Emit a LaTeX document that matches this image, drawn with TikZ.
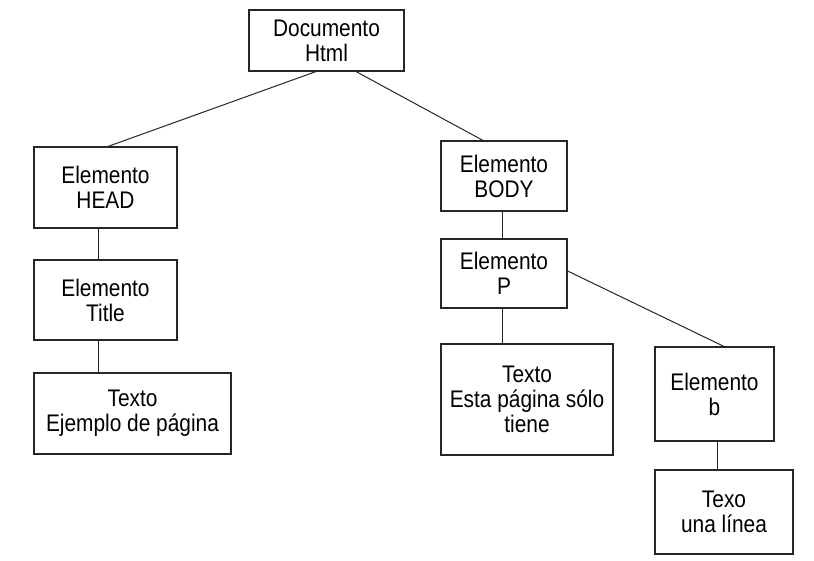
\documentclass[tikz,border=0pt]{standalone}
\usepackage{fontspec}
\setmainfont{Liberation Sans}[FakeStretch=0.87]
\begin{document}
\begin{tikzpicture}[x=1pt,y=-1pt,
  box/.style={draw=black!85,line width=1.1pt,fill=white,inner sep=0pt,align=center,
    font=\fontsize{24}{25}\selectfont,text=black},
  link/.style={draw=black!85,line width=1pt}]
\useasboundingbox (0,0) rectangle (814,561);
\node[box,minimum width=155pt,minimum height=61pt] (doc) at (326.5,40.5) {Documento\\Html};
\node[box,minimum width=143pt,minimum height=81pt] (head) at (105.5,187.5) {Elemento\\HEAD};
\node[box,minimum width=143pt,minimum height=80pt] (title) at (105.5,300) {Elemento\\Title};
\node[box,minimum width=197pt,minimum height=81pt] (ejemplo) at (132.5,413.5) {Texto\\Ejemplo de página};
\node[box,minimum width=126pt,minimum height=70pt] (body) at (504,176) {Elemento\\BODY};
\node[box,minimum width=126pt,minimum height=69pt] (p) at (504,273.5) {Elemento\\P};
\node[box,minimum width=172pt,minimum height=111pt] (texto) at (527,399.5) {Texto\\Esta página sólo\\tiene};
\node[box,minimum width=119pt,minimum height=94pt] (b) at (714.5,394) {Elemento\\b};
\node[box,minimum width=138pt,minimum height=84pt] (texo) at (724,512) {Texo\\una línea};
\draw[link] ([xshift=-10.5pt]doc.south) -- ([xshift=2.5pt]head.north);
\draw[link] ([xshift=29.5pt]doc.south) -- ([xshift=-21pt]body.north);
\draw[link] ([xshift=-7.5pt]head.south) -- ([xshift=-7.5pt]head.south |- title.north);
\draw[link] ([xshift=-7.5pt]title.south) -- ([xshift=-7.5pt]title.south |- ejemplo.north);
\draw[link] ([xshift=-2pt]body.south) -- ([xshift=-2pt]body.south |- p.north);
\draw[link] ([xshift=-2pt]p.south) -- ([xshift=-2pt]p.south |- texto.north);
\draw[link] ([yshift=2.5pt]p.east) -- ([xshift=9.5pt]b.north);
\draw[link] ([xshift=3pt]b.south) -- ([xshift=3pt]b.south |- texo.north);
\end{tikzpicture}
\end{document}
